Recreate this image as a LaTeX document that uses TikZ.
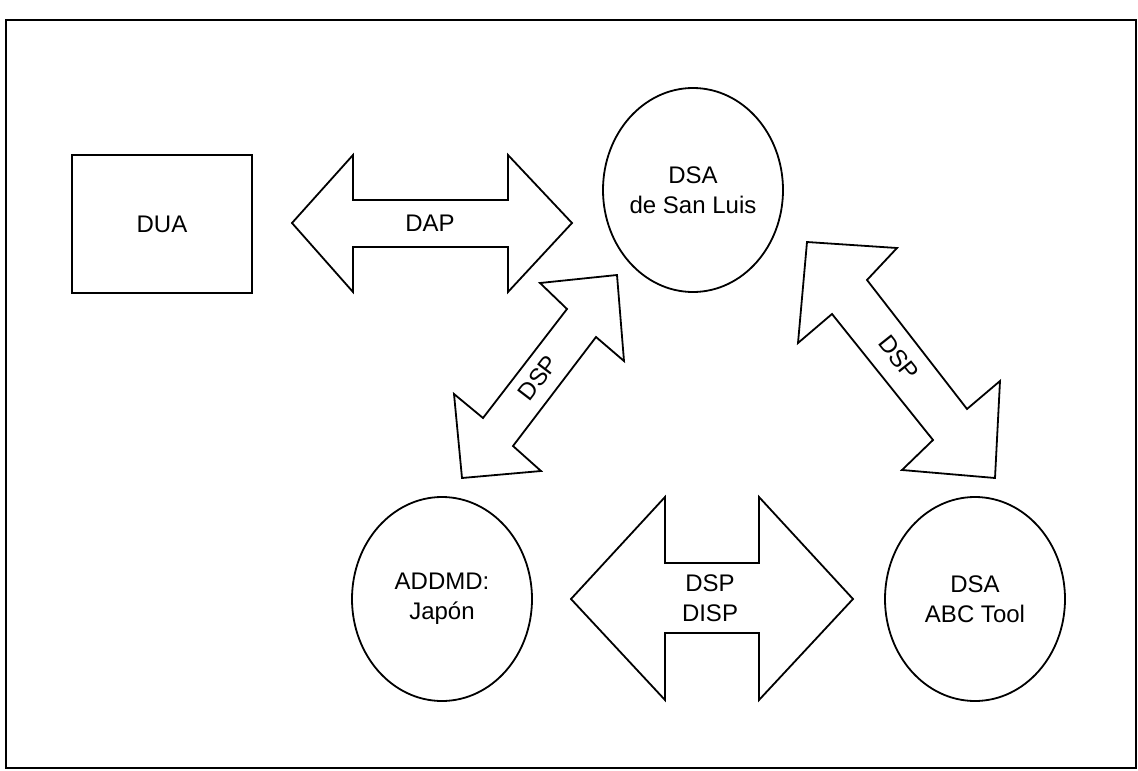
\documentclass[tikz,border=0pt]{standalone}
\usepackage{fontspec}
\setmainfont{Liberation Sans}
\usetikzlibrary{shapes.geometric}
\begin{document}
\begin{tikzpicture}[x=1pt,y=-1pt,
  lbl/.style={font=\fontsize{24}{30}\selectfont, align=center, inner sep=0pt},
  entity/.style={draw, line width=1.8pt, ellipse, minimum width=180pt, minimum height=204pt, inner sep=0pt, lbl},
  agent/.style={draw, line width=1.8pt, rectangle, minimum width=180pt, minimum height=138pt, inner sep=0pt, lbl},
  blockarrow/.style={draw, line width=1.8pt, line join=miter}]
\useasboundingbox (0,0) rectangle (1138,771);
% outer frame
\draw[line width=2.4pt] (6,20) rectangle (1136,768);

% entities
\node[agent] (dua) at (162,224) {DUA};
\node[entity] (sanluis) at (693,190) {DSA\\de San Luis};
\node[entity] (japon) at (442,599) {ADDMD:\\Japón};
\node[entity] (abc) at (975,599) {DSA\\ABC Tool};

% DAP double arrow between DUA and San Luis
\draw[blockarrow] (292,223) -- (353,155) -- (353,200) -- (508,200) -- (508,155)
  -- (572,223) -- (508,292) -- (508,247) -- (353,247) -- (353,292) -- cycle;
\node[lbl] (dap) at (430,223) {DAP};

% DSP double arrow between San Luis and Japón
\draw[blockarrow] (617,275) -- (624,361) -- (596,337) -- (513,446) -- (541,471)
  -- (462,478) -- (454,394) -- (483,418) -- (567,309) -- (540,283) -- cycle;
\node[lbl, rotate=52.6] (dspleft) at (538,378) {DSP};

% DSP double arrow between San Luis and ABC Tool
\draw[blockarrow] (807,242) -- (897,248) -- (867,280) -- (967,409) -- (1000,381)
  -- (995,478) -- (902,470) -- (933,440) -- (832,314) -- (798,343) -- cycle;
\node[lbl, rotate=-51.5] (dspright) at (899,358) {DSP};

% DSP / DISP double arrow between Japón and ABC Tool
\draw[blockarrow] (571,599) -- (665,497) -- (665,563) -- (759,563) -- (759,497)
  -- (853,599) -- (759,700) -- (759,633) -- (665,633) -- (665,700) -- cycle;
\node[lbl] (dspdisp) at (710,598) {DSP\\DISP};
\end{tikzpicture}
\end{document}
